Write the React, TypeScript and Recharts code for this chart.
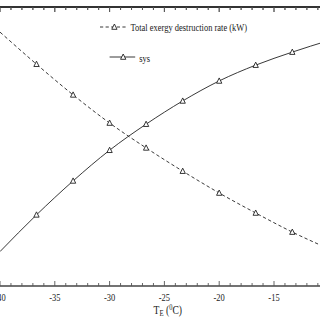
import React from 'react';
import { LineChart, Line, XAxis, YAxis, ReferenceLine } from 'recharts';

// Evaporator temperature T_E (°C)
const temps = [-40, -36.67, -33.33, -30, -26.67, -23.33, -20, -16.67, -13.33, -10];
// Total exergy destruction rate (kW) – dashed
const exergyDestruction = [54.6, 47.7, 41.1, 35.05, 29.7, 24.7, 20.0, 15.7, 11.6, 8.0];
// sys – solid
const sysValues = [7.4, 15.3, 22.6, 29.2, 34.8, 39.8, 44.1, 47.5, 50.3, 52.8];

const xMajorTicks = [-40, -35, -30, -25, -20, -15, -10];
const xLabelTicks = [-40, -35, -30, -25, -20, -15];
const xAllTicks = [
  -40, -39, -38, -37, -36, -35, -34, -33, -32, -31, -30, -29, -28, -27, -26, -25,
  -24, -23, -22, -21, -20, -19, -18, -17, -16, -15, -14, -13, -12, -11, -10,
];
const yMajorTicks = [0, 10, 20, 30, 40, 50, 60];
const yAllTicks = [0, 5, 10, 15, 20, 25, 30, 35, 40, 45, 50, 55, 60];
const X_MIN = -40;
const X_MAX = -10;
const Y_MAX = 60;

const legendNames = ['Total exergy destruction rate (kW)', 'sys'];

const data = temps.map((t, i) => ({ t, exergy: exergyDestruction[i], sys: sysValues[i] }));

const FONT = '"Liberation Serif", "Times New Roman", serif';
const INK = '#222';
const SX = 0.8;

const CHART_W = 440;
const CHART_H = 320;
const MARGIN = { top: 7, right: 29, bottom: 4, left: 0 };
const PLOT_W = CHART_W - MARGIN.left - MARGIN.right;

const BottomTick = (props: any) => {
  const { x, y, payload } = props;
  const major = xMajorTicks.includes(payload.value);
  const labelled = xLabelTicks.includes(payload.value);
  return (
    <g>
      <line x1={x} x2={x} y1={y} y2={y - (major ? 5 : 3)} stroke="#555" strokeWidth={1} />
      {labelled && (
        <text x={x} y={y + 15} textAnchor="middle" fontSize={10.6} fontFamily={FONT} fill={INK}>
          {payload.value}
        </text>
      )}
    </g>
  );
};

const LeftTick = (props: any) => {
  const { x, y, payload } = props;
  const major = yMajorTicks.includes(payload.value);
  return <line x1={x} x2={x + (major ? 5 : 3)} y1={y} y2={y} stroke="#aaa" strokeWidth={1} />;
};

const Triangle = (props: any) => {
  const { cx, cy, index } = props;
  if (index === 0 || index === temps.length - 1 || cx == null) return <g key={`d${index}`} />;
  return (
    <path
      key={`d${index}`}
      d={`M${cx},${cy - 3} L${cx + 3.3},${cy + 2.3} L${cx - 3.3},${cy + 2.3} Z`}
      fill="#fff"
      stroke={INK}
      strokeWidth={1}
    />
  );
};

const tri = (cx: number, cy: number) =>
  `M${cx},${cy - 3} L${cx + 3.3},${cy + 2.3} L${cx - 3.3},${cy + 2.3} Z`;

const minorLen = (3 / 279) * Y_MAX;
const majorLen = (5 / 279) * Y_MAX;

const topTickX = (t: number) => MARGIN.left + ((t - X_MIN) / (X_MAX - X_MIN)) * PLOT_W;

export default function App() {
  return (
    <div
      style={{
        position: 'fixed',
        left: 0,
        top: 0,
        width: 320,
        height: 320,
        overflow: 'hidden',
        background: '#fff',
      }}
    >
      <div
        style={{
          position: 'absolute',
          left: 0,
          top: 0,
          width: CHART_W,
          height: CHART_H,
          transform: `scaleX(${SX})`,
          transformOrigin: '0 0',
        }}
      >
        <LineChart width={CHART_W} height={CHART_H} data={data} margin={MARGIN}>
          <XAxis
            dataKey="t"
            type="number"
            domain={[X_MIN, X_MAX]}
            ticks={xAllTicks}
            interval={0}
            tick={<BottomTick />}
            tickSize={0}
            tickMargin={0}
            tickLine={false}
            height={30}
            axisLine={{ stroke: '#444', strokeWidth: 1.5 }}
          />
          <YAxis
            type="number"
            domain={[0, Y_MAX]}
            ticks={yAllTicks}
            interval={0}
            tick={<LeftTick />}
            tickSize={0}
            tickMargin={0}
            tickLine={false}
            width={0}
            axisLine={false}
          />
          <ReferenceLine y={Y_MAX} stroke="#444" strokeWidth={2} ifOverflow="visible" />
          {xAllTicks.map((t) => (
            <ReferenceLine
              key={`tt${t}`}
              segment={[
                { x: t, y: Y_MAX },
                { x: t, y: Y_MAX - (xMajorTicks.includes(t) ? majorLen : minorLen) },
              ]}
              stroke="#555"
              strokeWidth={1}
              ifOverflow="visible"
            />
          ))}
          <Line
            dataKey="exergy"
            name={legendNames[0]}
            type="monotone"
            stroke={INK}
            strokeWidth={1}
            strokeDasharray="4 3"
            dot={Triangle}
            isAnimationActive={false}
          />
          <Line
            dataKey="sys"
            name={legendNames[1]}
            type="monotone"
            stroke={INK}
            strokeWidth={1}
            dot={Triangle}
            isAnimationActive={false}
          />
        </LineChart>
        <svg
          width={CHART_W}
          height={CHART_H}
          style={{ position: 'absolute', left: 0, top: 0, pointerEvents: 'none' }}
        >
          <line x1={0} x2={CHART_W} y1={MARGIN.top} y2={MARGIN.top} stroke="#333" strokeWidth={2} />
          {xAllTicks.map((t) => (
            <line
              key={`ft${t}`}
              x1={topTickX(t)}
              x2={topTickX(t)}
              y1={MARGIN.top}
              y2={MARGIN.top + (xMajorTicks.includes(t) ? 5 : 3)}
              stroke="#555"
              strokeWidth={1}
            />
          ))}
          <line x1={125} x2={160} y1={27} y2={27} stroke={INK} strokeWidth={1} strokeDasharray="4 3" />
          <path d={tri(143, 27)} fill="#fff" stroke={INK} strokeWidth={1} />
          <text x={163} y={31} fontSize={10.6} fontFamily={FONT} fill={INK}>
            {legendNames[0]}
          </text>
          <line x1={137} x2={169} y1={57} y2={57} stroke={INK} strokeWidth={1} />
          <path d={tri(154, 57)} fill="#fff" stroke={INK} strokeWidth={1} />
          <text x={174} y={62} fontSize={10.6} fontFamily={FONT} fill={INK}>
            {legendNames[1]}
          </text>
          <text x={192} y={314} fontSize={12} fontFamily={FONT} fill={INK}>
            T
            <tspan fontSize={8.5} dy={2}>E</tspan>
            <tspan dy={-2}> (</tspan>
            <tspan fontSize={8} dy={-4}>0</tspan>
            <tspan dy={4}>C)</tspan>
          </text>
        </svg>
      </div>
    </div>
  );
}
